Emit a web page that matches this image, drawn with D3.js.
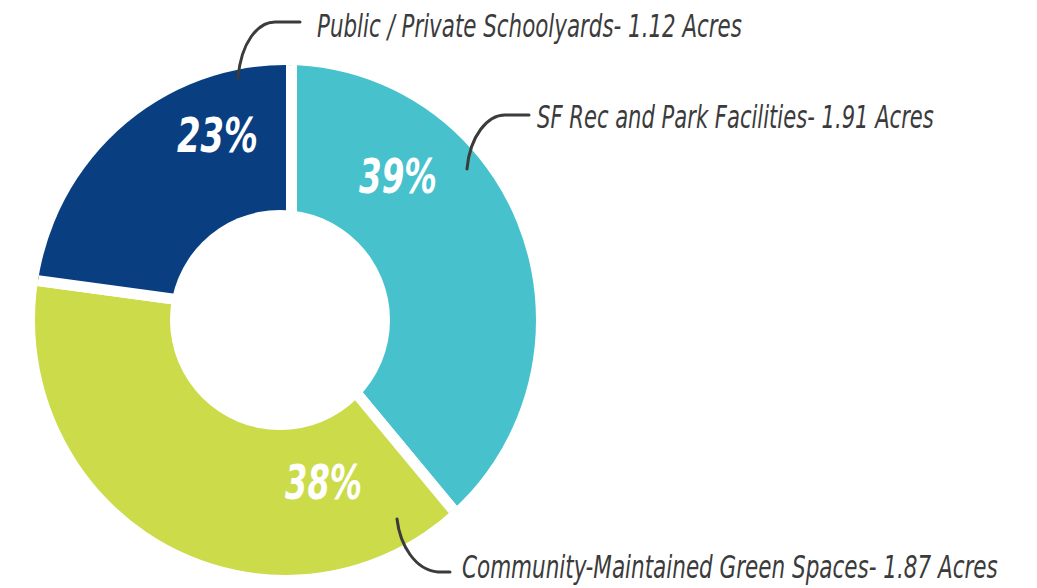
<!DOCTYPE html>
<html>
<head>
<meta charset="utf-8">
<script src="https://cdn.jsdelivr.net/npm/d3@7/dist/d3.min.js"></script>
<style>
  html, body { margin: 0; padding: 0; background: #fff; }
  svg { display: block; }
  .cat { font-family: "Liberation Sans Narrow", "DejaVu Sans Condensed", "Roboto", sans-serif; font-style: italic; fill: #3b3b3b; }
  .pct { font-family: "Liberation Sans Narrow", "DejaVu Sans Condensed", "Roboto", sans-serif; font-style: italic; font-weight: bold; fill: #fff; }
</style>
</head>
<body>
<script>
// ---- data ----
const categories = ["SF Rec and Park Facilities", "Community-Maintained Green Spaces", "Public / Private Schoolyards"];
const acres = [1.91, 1.87, 1.12];
const percentLabels = ["39%", "38%", "23%"];
const colors = ["#47c2cc", "#cbdb4a", "#093e80"];

// ---- layout (annotation placement) ----
const W = 1037, H = 588;
const split = { x: 291.5, y: 315 };          // point where wedge boundaries meet
const ring = { cx: 285.5, cy: 320, rx: 250.5, ry: 255 };
const hole = { cx: 280, cy: 320, r: 110 };
const pctPos = [ {x: 359, y: 193, w: 78}, {x: 285, y: 499, w: 77}, {x: 177, y: 152, w: 81} ];
const catPos = [ {x: 537, y: 128, w: 397}, {x: 462, y: 578, w: 536}, {x: 317, y: 37, w: 425} ];
const leaders = [
  "M529,115 L505,115 C488,115 470,135 467,169",
  "M450,572 L438,572 C415,570 400,545 397,519",
  "M300,22 L275,22 C258,22 241,42 238,78"
];

const svg = d3.select("body").append("svg").attr("width", W).attr("height", H);

const defs = svg.append("defs");
defs.append("clipPath").attr("id", "ringClip")
  .append("ellipse")
  .attr("cx", ring.cx).attr("cy", ring.cy).attr("rx", ring.rx).attr("ry", ring.ry);

const pie = d3.pie().sort(null).value(d => d)(acres);
const arc = d3.arc().innerRadius(0).outerRadius(420);

const g = svg.append("g").attr("clip-path", "url(#ringClip)");
g.append("g").attr("transform", `translate(${split.x},${split.y})`)
  .selectAll("path").data(pie).join("path")
  .attr("d", arc)
  .attr("fill", (d, i) => colors[i])
  .attr("stroke", "#fff")
  .attr("stroke-width", 11)
  .attr("stroke-linejoin", "miter");

svg.append("circle").attr("cx", hole.cx).attr("cy", hole.cy).attr("r", hole.r).attr("fill", "#fff");

// fit a text horizontally to a target width by scaling its x axis
function fitText(sel, pos) {
  sel.each(function(d, i) {
    const t = d3.select(this);
    const natural = this.getComputedTextLength();
    const s = pos[i].w / natural;
    t.attr("transform", `translate(${pos[i].x},${pos[i].y}) scale(${s},1)`);
  });
}

// percent labels
svg.selectAll("text.pct").data(percentLabels).join("text")
  .attr("class", "pct")
  .attr("x", 0).attr("y", 0)
  .attr("font-size", 48)
  .text(d => d)
  .call(fitText, pctPos);

// leader lines
svg.selectAll("path.leader").data(leaders).join("path")
  .attr("class", "leader")
  .attr("d", d => d)
  .attr("fill", "none")
  .attr("stroke", "#3b3b3b")
  .attr("stroke-width", 3)
  .attr("stroke-linecap", "round");

// category labels
svg.selectAll("text.cat").data(categories).join("text")
  .attr("class", "cat")
  .attr("x", 0).attr("y", 0)
  .attr("font-size", 32)
  .text((d, i) => `${d}- ${acres[i].toFixed(2)} Acres`)
  .call(fitText, catPos);
</script>
</body>
</html>
